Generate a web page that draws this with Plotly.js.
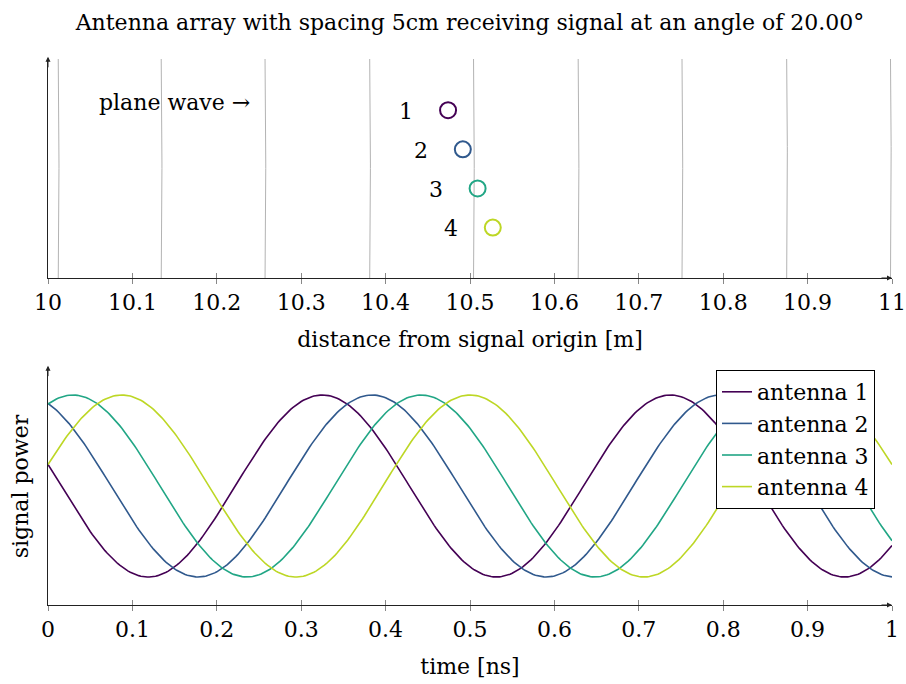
<!DOCTYPE html>
<html><head><meta charset="utf-8">
<script src="https://cdn.plot.ly/plotly-3.0.1.min.js"></script>
<style>body{margin:0;padding:0;background:#fff}#c{width:906px;height:684px}</style>
</head><body><div id="c"></div>
<script>
// ---- data ----
const antennaNames = ['antenna 1','antenna 2','antenna 3','antenna 4'];
const antennaLabels = ['1','2','3','4'];
const antennaX = [10.474, 10.4915, 10.509, 10.527];   // distance from origin [m]
const antennaY = [0.0705, 0.0235, -0.0235, -0.0705];  // lateral position [m]
const antennaColors = ['#440154','#30598d','#21a685','#bdd725'];
const wavefrontRadii = [10.013, 10.135, 10.258, 10.382, 10.505, 10.629, 10.752, 10.876, 10.999];
const signalPeriod = 0.4125;                 // ns
const signalPeakTimes = [0.325, 0.384, 0.442, 0.500]; // ns, time of a maximum per antenna
const xTicksTop = [10,10.1,10.2,10.3,10.4,10.5,10.6,10.7,10.8,10.9,11];
const xTickTextTop = ['10','10.1','10.2','10.3','10.4','10.5','10.6','10.7','10.8','10.9','11'];
const xTicksBot = [0,0.1,0.2,0.3,0.4,0.5,0.6,0.7,0.8,0.9,1];
const xTickTextBot = ['0','0.1','0.2','0.3','0.4','0.5','0.6','0.7','0.8','0.9','1'];

const FONT = 'DejaVu Serif, serif';
const FS = 22;
const yTop = [-0.131, 0.132];
const traces = [];

// wavefronts (arcs around the signal origin)
const nArc = 40;
wavefrontRadii.forEach((r,i)=>{
  const xs=[], ys=[];
  for(let k=0;k<=nArc;k++){
    const y = yTop[0] + (yTop[1]-yTop[0])*k/nArc;
    ys.push(y); xs.push(Math.sqrt(r*r - y*y));
  }
  traces.push({x:xs,y:ys,mode:'lines',line:{color:'#b3b3b3',width:1},showlegend:false,hoverinfo:'skip',xaxis:'x',yaxis:'y'});
});
// antennas
antennaX.forEach((x,i)=>{
  traces.push({x:[x],y:[antennaY[i]],mode:'markers',marker:{symbol:'circle-open',size:16,color:antennaColors[i],line:{width:2,color:antennaColors[i]}},showlegend:false,xaxis:'x',yaxis:'y'});
});
// signals
const nT = 400;
signalPeakTimes.forEach((tp,i)=>{
  const ts=[], vs=[];
  for(let k=0;k<=nT;k++){ const t=k/nT; ts.push(t); vs.push(Math.cos(2*Math.PI*(t-tp)/signalPeriod)); }
  traces.push({x:ts,y:vs,mode:'lines',name:antennaNames[i],legendgroup:'g'+i,line:{color:antennaColors[i],width:1.6},xaxis:'x2',yaxis:'y2'});
});

const annotations = [];
antennaX.forEach((x,i)=>{
  annotations.push({x:x,y:antennaY[i],xref:'x',yref:'y',text:antennaLabels[i],showarrow:false,xshift:-42,yshift:-1,font:{family:FONT,size:FS,color:'#000'}});
});
annotations.push({x:10.15,y:0.080,xref:'x',yref:'y',text:'plane wave →',showarrow:false,font:{family:FONT,size:FS,color:'#000'}});
// axis arrows
const arr = (xref,yref,x,y,ax,ay)=>({xref,yref,x,y,ax,ay,axref:'pixel',ayref:'pixel',text:'',showarrow:true,arrowhead:2,arrowsize:1,arrowwidth:1,arrowcolor:'#222'});
annotations.push(arr('x domain','y domain',1,0,-12,0));
annotations.push(arr('x domain','y domain',0,1.01,0,12));
annotations.push(arr('x2 domain','y2 domain',1,0,-12,0));
annotations.push(arr('x2 domain','y2 domain',0,1.01,0,12));

const topDom=[1-278/684, 1-59/684], botDom=[1-605/684, 1-368/684];
const axBase = {showgrid:false,zeroline:false,showline:true,linecolor:'#222',linewidth:1,tickcolor:'#888',ticklen:5,tickwidth:1,tickfont:{family:FONT,size:FS,color:'#000'}};
const layout = {
  width:906,height:684,margin:{l:48,r:14,t:0,b:0},paper_bgcolor:'#fff',plot_bgcolor:'#fff',
  title:{text:'Antenna array with spacing 5cm receiving signal at an angle of 20.00°',font:{family:FONT,size:FS,color:'#000'},x:470/906,xanchor:'center',y:1-22/684,yanchor:'middle'},
  xaxis:Object.assign({},axBase,{domain:[0,1],anchor:'y',range:[10,11],tickvals:xTicksTop,ticktext:xTickTextTop,ticks:'outside',title:{text:'distance from signal origin [m]',font:{family:FONT,size:FS,color:'#000'},standoff:17}}),
  yaxis:Object.assign({},axBase,{domain:topDom,anchor:'x',range:yTop,showticklabels:false,ticks:''}),
  xaxis3:Object.assign({},axBase,{overlaying:'x',anchor:'y',range:[10,11],tickvals:xTicksTop,ticks:'inside',showticklabels:false,side:'bottom'}),
  xaxis2:Object.assign({},axBase,{domain:[0,1],anchor:'y2',range:[0,1],tickvals:xTicksBot,ticktext:xTickTextBot,ticks:'outside',title:{text:'time [ns]',font:{family:FONT,size:FS,color:'#000'},standoff:17}}),
  yaxis2:Object.assign({},axBase,{domain:botDom,anchor:'x2',range:[-1.308,1.297],showticklabels:false,ticks:'',title:{text:'signal power',font:{family:FONT,size:FS,color:'#000'},standoff:12}}),
  xaxis4:Object.assign({},axBase,{overlaying:'x2',anchor:'y2',range:[0,1],tickvals:xTicksBot,ticks:'inside',showticklabels:false,side:'bottom'}),
  showlegend:true,
  legend:{x:(875-48)/844,xanchor:'right',y:1-370/684,yanchor:'top',bgcolor:'#fff',bordercolor:'#000',borderwidth:1,font:{family:FONT,size:FS,color:'#000'},traceorder:'grouped',tracegroupgap:0},
  annotations:annotations
};
// dummy traces so overlay axes render
traces.push({x:[10],y:[0],xaxis:'x3',yaxis:'y',mode:'markers',marker:{opacity:0},showlegend:false,hoverinfo:'skip'});
traces.push({x:[0],y:[0],xaxis:'x4',yaxis:'y2',mode:'markers',marker:{opacity:0},showlegend:false,hoverinfo:'skip'});
Plotly.newPlot('c',traces,layout,{staticPlot:true});
</script></body></html>
